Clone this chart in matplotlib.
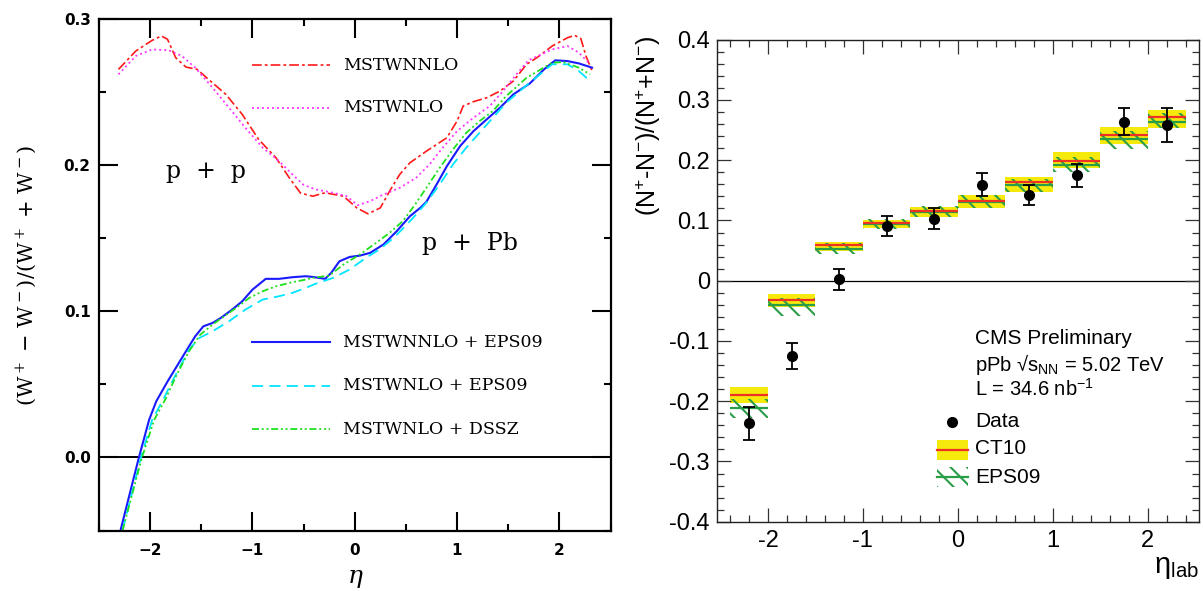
import numpy as np
import matplotlib
matplotlib.use('Agg')
import matplotlib.pyplot as plt
from matplotlib.ticker import MultipleLocator, FixedLocator
from matplotlib.patches import Rectangle
from matplotlib.lines import Line2D

plt.rcParams['axes.unicode_minus'] = False
plt.rcParams['mathtext.fontset'] = 'custom'
plt.rcParams['mathtext.rm'] = 'Liberation Sans'
plt.rcParams['mathtext.it'] = 'Liberation Sans:italic'
plt.rcParams['mathtext.bf'] = 'Liberation Sans:bold'
plt.rcParams['hatch.linewidth'] = 1.5
plt.rcParams['lines.scale_dashes'] = False

# ---------------- Left panel data (W asymmetry predictions) ----------------
red_eta = [-2.31, -2.14, -1.98, -1.89, -1.83, -1.75, -1.65, -1.54, -1.43, -1.26, -1.10, -0.94, -0.77,
           -0.64, -0.53, -0.41, -0.29, -0.11, 0.02, 0.13, 0.25, 0.34, 0.44, 0.54, 0.70, 0.90, 1.00,
           1.06, 1.16, 1.29, 1.42, 1.55, 1.68, 1.78, 1.93, 2.08, 2.15, 2.21, 2.26, 2.32]
red_val = [0.2657, 0.2783, 0.2856, 0.2886, 0.2863, 0.2737, 0.2673, 0.2657, 0.2589, 0.2486, 0.2349,
           0.2178, 0.2052, 0.1915, 0.1810, 0.1789, 0.1812, 0.1789, 0.1709, 0.1668, 0.1709, 0.1823,
           0.1938, 0.2018, 0.2097, 0.2189, 0.2303, 0.2406, 0.2436, 0.2463, 0.2509, 0.2577, 0.2692,
           0.2737, 0.2817, 0.2874, 0.2890, 0.2868, 0.2749, 0.2646]

mag_eta = [-2.31, -2.14, -1.98, -1.82, -1.69, -1.56, -1.39, -1.23, -1.07, -0.90, -0.74, -0.61, -0.50,
           -0.38, -0.21, -0.08, 0.03, 0.15, 0.28, 0.44, 0.60, 0.73, 0.86, 1.00, 1.16, 1.32, 1.45,
           1.58, 1.70, 1.93, 2.08, 2.19, 2.30]
mag_val = [0.2623, 0.2749, 0.2794, 0.2788, 0.2749, 0.2669, 0.2532, 0.2395, 0.2258, 0.2121, 0.2029,
           0.1938, 0.1866, 0.1835, 0.1812, 0.1789, 0.1727, 0.1755, 0.1800, 0.1846, 0.1915, 0.2006,
           0.2121, 0.2234, 0.2326, 0.2406, 0.2509, 0.2623, 0.2720, 0.2794, 0.2817, 0.2772, 0.2692]

blue_eta = [-2.29, -2.11, -2.01, -1.94, -1.83, -1.78, -1.65, -1.56, -1.48, -1.39, -1.31, -1.20, -1.10,
            -1.00, -0.87, -0.74, -0.61, -0.48, -0.41, -0.29, -0.23, -0.15, -0.05, 0.05, 0.15, 0.28,
            0.41, 0.54, 0.64, 0.70, 0.80, 0.90, 1.03, 1.16, 1.29, 1.42, 1.55, 1.71, 1.85, 1.96, 2.08,
            2.19, 2.32]
blue_val = [-0.05, 0.0, 0.0258, 0.0385, 0.0520, 0.0578, 0.0727, 0.0829, 0.0898, 0.0921, 0.0955,
            0.1012, 0.1069, 0.1149, 0.1223, 0.1223, 0.1234, 0.1241, 0.1236, 0.1223, 0.1264, 0.1343,
            0.1373, 0.1382, 0.1401, 0.1458, 0.1549, 0.1652, 0.1709, 0.1750, 0.1869, 0.1994, 0.2132,
            0.2234, 0.2315, 0.2395, 0.2486, 0.2560, 0.2657, 0.2719, 0.2714, 0.2698, 0.2669]

cyan_eta = [-2.27, -2.09, -1.98, -1.87, -1.77, -1.62, -1.52, -1.39, -1.23, -1.07, -0.90, -0.74, -0.61,
            -0.48, -0.38, -0.21, -0.05, 0.11, 0.25, 0.38, 0.51, 0.60, 0.70, 0.83, 0.96, 1.09, 1.22,
            1.35, 1.48, 1.71, 1.93, 2.08, 2.19, 2.30]
cyan_val = [-0.05, 0.0, 0.0258, 0.0400, 0.0540, 0.0738, 0.0818, 0.0864, 0.0932, 0.1012, 0.1081,
            0.1104, 0.1127, 0.1161, 0.1190, 0.1230, 0.1287, 0.1367, 0.1428, 0.1504, 0.1595, 0.1664,
            0.1745, 0.1869, 0.2006, 0.2121, 0.2223, 0.2326, 0.2429, 0.2566, 0.2692, 0.2692, 0.2646,
            0.2577]

green_eta = [-2.27, -2.08, -1.96, -1.85, -1.74, -1.62, -1.51, -1.39, -1.30, -1.16, -1.03, -0.90, -0.77,
             -0.61, -0.48, -0.41, -0.25, -0.11, 0.05, 0.21, 0.34, 0.47, 0.59, 0.70, 0.83, 0.96, 1.09,
             1.22, 1.35, 1.48, 1.68, 1.93, 2.04, 2.19, 2.30]
green_val = [-0.05, 0.0, 0.0258, 0.0400, 0.0567, 0.0727, 0.0841, 0.0909, 0.0955, 0.1024, 0.1093,
             0.1138, 0.1172, 0.1200, 0.1218, 0.1230, 0.1245, 0.1321, 0.1390, 0.1470, 0.1538, 0.1618,
             0.1732, 0.1846, 0.1983, 0.2109, 0.2223, 0.2303, 0.2372, 0.2474, 0.2600, 0.2703, 0.2707,
             0.2669, 0.2623]

left_xticks = [-2, -1, 0, 1, 2]
left_xticklabels = ['\u22122', '\u22121', '0', '1', '2']
left_yticks = [0.0, 0.1, 0.2, 0.3]
left_yticklabels = ['0.0', '0.1', '0.2', '0.3']

# ---------------- Right panel data (CMS pPb charge asymmetry) ----------------
bin_lo = [-2.4, -2.0, -1.5, -1.0, -0.5, 0.0, 0.5, 1.0, 1.5, 2.0]
bin_hi = [-2.0, -1.5, -1.0, -0.5, 0.0, 0.5, 1.0, 1.5, 2.0, 2.4]
data_x = [-2.2, -1.75, -1.25, -0.75, -0.25, 0.25, 0.75, 1.25, 1.75, 2.2]
data_y = [-0.237, -0.125, 0.002, 0.091, 0.103, 0.159, 0.142, 0.175, 0.264, 0.259]
data_err = [0.027, 0.021, 0.018, 0.016, 0.017, 0.019, 0.017, 0.019, 0.022, 0.028]
ct10_c = [-0.190, -0.032, 0.0586, 0.0956, 0.115, 0.133, 0.1646, 0.1994, 0.2425, 0.2718]
ct10_lo = [-0.203, -0.044, 0.0497, 0.087, 0.1055, 0.1204, 0.148, 0.187, 0.2265, 0.254]
ct10_hi = [-0.177, -0.022, 0.065, 0.101, 0.1215, 0.1425, 0.172, 0.214, 0.255, 0.2834]
eps_c = [-0.212, -0.041, 0.053, 0.0945, 0.1133, 0.130, 0.159, 0.192, 0.235, 0.264]
eps_lo = [-0.228, -0.058, 0.0442, 0.0862, 0.105, 0.120, 0.148, 0.181, 0.218, 0.253]
eps_hi = [-0.197, -0.029, 0.0624, 0.1028, 0.1232, 0.1425, 0.169, 0.206, 0.2486, 0.278]

right_xticks = [-2, -1, 0, 1, 2]
right_xticklabels = ['-2', '-1', '0', '1', '2']
right_yticks = [-0.4, -0.3, -0.2, -0.1, 0.0, 0.1, 0.2, 0.3, 0.4]
right_yticklabels = ['-0.4', '-0.3', '-0.2', '-0.1', '0', '0.1', '0.2', '0.3', '0.4']

W, H = 1203, 591
fig = plt.figure(figsize=(W / 100, H / 100), dpi=100)

# ================= Left panel =================
ax1 = fig.add_axes([99 / W, 1 - 530.5 / H, 511.5 / W, 511.2 / H])
ax1.set_xlim(-2.5, 2.5)
ax1.set_ylim(-0.05, 0.3)
serif = 'DejaVu Serif'

ax1.axhline(0, color='black', lw=1.4, zorder=1)
l_red, = ax1.plot(red_eta, red_val, color='#ff1a1a', lw=1.2, dashes=(7, 2.2, 2, 2.2))
l_mag, = ax1.plot(mag_eta, mag_val, color='#ff33ff', lw=1.3, dashes=(1.4, 2.2))
l_blue, = ax1.plot(blue_eta, blue_val, color='#1a1aff', lw=1.5)
l_cyan, = ax1.plot(cyan_eta, cyan_val, color='#00e5ff', lw=1.3, dashes=(8, 4.5))
l_green, = ax1.plot(green_eta, green_val, color='#1ee01e', lw=1.3, dashes=(5, 2, 1.4, 2, 1.4, 2))

for sp in ax1.spines.values():
    sp.set_linewidth(1.6)
ax1.xaxis.set_major_locator(FixedLocator(left_xticks))
ax1.xaxis.set_minor_locator(MultipleLocator(0.5))
ax1.yaxis.set_major_locator(FixedLocator(left_yticks))
ax1.yaxis.set_minor_locator(MultipleLocator(0.05))
ax1.set_xticklabels(left_xticklabels)
ax1.set_yticklabels(left_yticklabels)
ax1.tick_params(which='both', direction='in', top=True, right=True, width=1.5)
ax1.tick_params(which='major', length=13.5)
ax1.tick_params(which='minor', length=5)
ax1.tick_params(axis='x', pad=9)
ax1.tick_params(axis='y', pad=6)
for lab in ax1.get_xticklabels() + ax1.get_yticklabels():
    lab.set_fontfamily('DejaVu Sans')
    lab.set_fontweight('bold')
    lab.set_fontsize(11)

# legend (manual, axes coords)
leg_entries = [(l_red, 'MSTWNNLO', 0.9106), (l_mag, 'MSTWNLO', 0.827),
               (l_blue, 'MSTWNNLO + EPS09', 0.368), (l_cyan, 'MSTWNLO + EPS09', 0.283),
               (l_green, 'MSTWNLO + DSSZ', 0.198)]
for ln, lab, yy in leg_entries:
    h = Line2D([0.299, 0.452], [yy, yy], transform=ax1.transAxes, color=ln.get_color(),
               lw=ln.get_linewidth(), linestyle=ln.get_linestyle())
    if ln.get_linestyle() != '-':
        h.set_dashes(ln._unscaled_dash_pattern[1])
    ax1.add_line(h)
    ax1.text(0.477, yy, lab, transform=ax1.transAxes, fontsize=12.5, family=serif,
             ha='left', va='center')

ax1.text(0.209, 0.702, 'p  +  p', transform=ax1.transAxes, fontsize=17, family=serif,
         ha='center', va='center')
ax1.text(0.725, 0.562, 'p  +  Pb', transform=ax1.transAxes, fontsize=17, family=serif,
         ha='center', va='center')

fig.text(27 / W, 1 - 275 / H, '(W$^+$ $-$ W$^-$)/(W$^+$ + W$^-$)', rotation=90,
         ha='center', va='center', fontsize=15, family=serif, math_fontfamily='dejavuserif')
fig.text(355 / W, 1 - 578 / H, r'$\eta$', ha='center', va='center', fontsize=18,
         math_fontfamily='dejavuserif')

# ================= Right panel =================
ax2 = fig.add_axes([716.7 / W, 1 - 521.7 / H, 482.3 / W, 482 / H])
ax2.set_xlim(-2.54, 2.54)
ax2.set_ylim(-0.4, 0.4)

yellow = '#f5ea0c'
redc = '#ee3124'
greenc = '#2a9d48'
widths = np.array(bin_hi) - np.array(bin_lo)
ax2.bar(bin_lo, np.array(ct10_hi) - np.array(ct10_lo), width=widths, bottom=ct10_lo,
        align='edge', color=yellow, lw=0, zorder=1)
ax2.bar(bin_lo, np.array(eps_hi) - np.array(eps_lo), width=widths, bottom=eps_lo,
        align='edge', facecolor='none', edgecolor=greenc, lw=0, hatch='\\\\', zorder=2)
ax2.hlines(eps_c, bin_lo, bin_hi, color=greenc, lw=1.6, zorder=3)
ax2.hlines(ct10_c, bin_lo, bin_hi, color=redc, lw=1.6, zorder=3)
ax2.axhline(0, color='black', lw=0.9, zorder=1.5)
ax2.errorbar(data_x, data_y, yerr=data_err, fmt='o', color='black', ms=7, capsize=4.5,
             elinewidth=1.3, capthick=1.3, zorder=5)

for sp in ax2.spines.values():
    sp.set_linewidth(1.0)
    sp.set_color('#222222')
ax2.xaxis.set_major_locator(FixedLocator(right_xticks))
ax2.xaxis.set_minor_locator(MultipleLocator(0.2))
ax2.yaxis.set_major_locator(FixedLocator(right_yticks))
ax2.yaxis.set_minor_locator(MultipleLocator(0.02))
ax2.set_xticklabels(right_xticklabels)
ax2.set_yticklabels(right_yticklabels)
ax2.tick_params(which='both', direction='in', top=True, right=True, width=0.9, color='#333333')
ax2.tick_params(which='major', length=10)
ax2.tick_params(which='minor', length=5)
ax2.tick_params(axis='x', pad=6)
ax2.tick_params(axis='y', pad=5)
for lab in ax2.get_xticklabels() + ax2.get_yticklabels():
    lab.set_fontfamily('Liberation Sans')
    lab.set_fontsize(17)

fig.text(648 / W, 1 - 126 / H, r'(N$^{+}$-N$^{-}$)/(N$^{+}$+N$^{-}$)', rotation=90,
         ha='center', va='center', fontsize=18, family='Liberation Sans')
fig.text(1199 / W, 1 - 573 / H, '\u03b7$_{\\mathrm{lab}}$', ha='right', va='baseline',
         fontsize=21, family='Liberation Sans')

tx = 0.5356
sans = 'Liberation Sans'
ax2.text(tx, 0.381, 'CMS Preliminary', transform=ax2.transAxes, fontsize=15,
         family=sans, ha='left', va='center')
ax2.text(tx, 0.3255, 'pPb \u221as$_{\\mathrm{NN}}$ = 5.02 TeV', transform=ax2.transAxes,
         fontsize=14.5, family=sans, ha='left', va='center')
ax2.text(tx, 0.275, 'L = 34.6 nb$^{-1}$', transform=ax2.transAxes, fontsize=14.5,
         family=sans, ha='left', va='center')
ax2.text(tx, 0.207, 'Data', transform=ax2.transAxes, fontsize=15, family=sans,
         ha='left', va='center')
ax2.text(tx, 0.151, 'CT10', transform=ax2.transAxes, fontsize=15, family=sans,
         ha='left', va='center')
ax2.text(tx, 0.0927, 'EPS09', transform=ax2.transAxes, fontsize=15, family=sans,
         ha='left', va='center')
ax2.plot([0.4877], [0.207], 'o', color='black', ms=7, transform=ax2.transAxes, clip_on=False)
ax2.add_patch(Rectangle((0.457, 0.128), 0.064, 0.0405, transform=ax2.transAxes,
                        color=yellow, lw=0))
ax2.add_line(Line2D([0.457, 0.521], [0.1485, 0.1485], transform=ax2.transAxes, color=redc, lw=1.6))
ax2.add_patch(Rectangle((0.457, 0.072), 0.064, 0.041, transform=ax2.transAxes,
                        facecolor='none', edgecolor=greenc, lw=0, hatch='\\\\'))
ax2.add_line(Line2D([0.457, 0.521], [0.0925, 0.0925], transform=ax2.transAxes, color=greenc, lw=1.6))

fig.savefig('out.png', dpi=100)
